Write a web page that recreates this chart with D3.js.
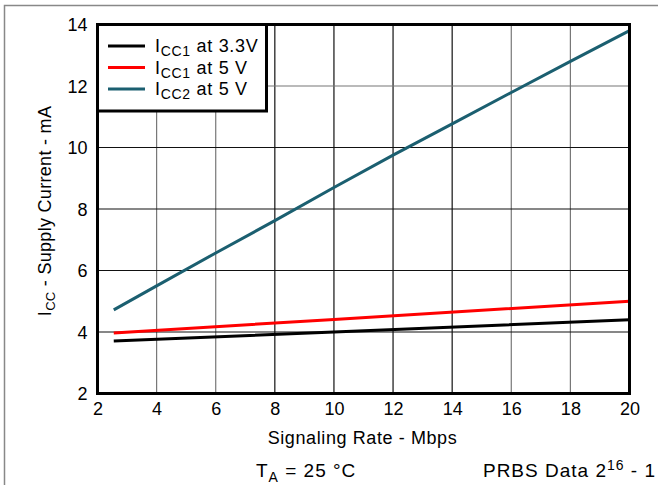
<!DOCTYPE html>
<html>
<head>
<meta charset="utf-8">
<script src="https://cdn.jsdelivr.net/npm/d3@7"></script>
<style>
  body { margin: 0; background: #fff; }
  text { font-family: "Liberation Sans", Arial, sans-serif; fill: #000; }
</style>
</head>
<body>
<div id="chart"></div>
<script>
// values
const xTicks = [2, 4, 6, 8, 10, 12, 14, 16, 18, 20]
const yTicks = [2, 4, 6, 8, 10, 12, 14]

const rateIcc2 = [2.55, 4, 6, 8, 10, 12, 14, 16, 18, 20]
const icc2At5V = [4.72, 5.5, 6.57, 7.62, 8.7, 9.75, 10.77, 11.79, 12.8, 13.8]

const rateIcc1 = [2.55, 10, 20]
const icc1At33V = [3.71, 4.0, 4.4]
const icc1At5V = [3.97, 4.41, 5.0]

const seriesNames = [
  ['I', 'CC1', ' at 3.3V'],
  ['I', 'CC1', ' at 5 V'],
  ['I', 'CC2', ' at 5 V']
]

function graph(id) {
  const width = 658
  const height = 485
  const m = { left: 97.5, right: 629.5, top: 24.5, bottom: 393.5 }

  const svg = d3.select(id).append('svg')
    .attr('width', width)
    .attr('height', height)

  // outer frame
  svg.append('rect')
    .attr('x', 4.5).attr('y', 5.5)
    .attr('width', 700).attr('height', 600)
    .attr('fill', 'none')
    .attr('stroke', '#888')
    .attr('stroke-width', 1.5)

  const xScale = d3.scaleLinear().domain([2, 20]).range([m.left, m.right])
  const yScale = d3.scaleLinear().domain([2, 14]).range([m.bottom, m.top])

  // grid
  const grid = svg.append('g')
  grid.selectAll('line.vx')
    .data(xTicks.slice(1, -1))
    .enter().append('line')
    .attr('x1', (d) => xScale(d)).attr('x2', (d) => xScale(d))
    .attr('y1', m.top).attr('y2', m.bottom)
    .attr('stroke', (d) => (d <= 6 || d >= 16 ? '#777' : '#111'))
    .attr('stroke-width', 1.2)
  grid.selectAll('line.hy')
    .data(yTicks.slice(1, -1))
    .enter().append('line')
    .attr('y1', (d) => yScale(d)).attr('y2', (d) => yScale(d))
    .attr('x1', m.left).attr('x2', m.right)
    .attr('stroke', (d) => (d === 12 ? '#777' : '#111'))
    .attr('stroke-width', 1.2)

  // axes (labels only)
  const xAxis = svg.append('g')
    .attr('transform', `translate(0, ${m.bottom})`)
    .call(d3.axisBottom(xScale).tickValues(xTicks).tickSize(0).tickPadding(9))
  const yAxis = svg.append('g')
    .attr('transform', `translate(${m.left}, 0)`)
    .call(d3.axisLeft(yScale).tickValues(yTicks).tickSize(0).tickPadding(10))
  ;[xAxis, yAxis].forEach((a) => {
    a.select('.domain').remove()
    a.selectAll('text')
      .style('font-family', '"Liberation Sans", Arial, sans-serif')
      .style('font-size', '18px')
      .attr('fill', '#000')
  })
  yAxis.selectAll('text').attr('dy', '0.36em')

  const makeLine = d3.line()
    .x((d) => xScale(d[0]))
    .y((d) => yScale(d[1]))

  const lines = [
    { pts: d3.zip(rateIcc1, icc1At33V), color: '#000' },
    { pts: d3.zip(rateIcc1, icc1At5V), color: '#ff0000' },
    { pts: d3.zip(rateIcc2, icc2At5V), color: '#1b5f70' }
  ]

  svg.append('g')
    .selectAll('path')
    .data(lines)
    .enter().append('path')
    .attr('fill', 'none')
    .attr('stroke', (d) => d.color)
    .attr('stroke-width', 3)
    .attr('d', (d) => makeLine(d.pts))

  // legend
  const legend = svg.append('g')
  legend.append('rect')
    .attr('x', m.left).attr('y', m.top)
    .attr('width', 169).attr('height', 86.5)
    .attr('fill', '#fff')
    .attr('stroke', '#000')
    .attr('stroke-width', 3)

  seriesNames.forEach((n, i) => {
    const y = 46 + i * 21.5
    legend.append('line')
      .attr('x1', 108).attr('x2', 145)
      .attr('y1', y).attr('y2', y)
      .attr('stroke', lines[i].color)
      .attr('stroke-width', 3)
    const t = legend.append('text')
      .attr('x', 155).attr('y', y + 6)
      .style('font-size', '18px')
      .style('letter-spacing', '0.7px')
    t.append('tspan').text(n[0])
    t.append('tspan').attr('dy', 4).style('font-size', '14px').text(n[1])
    t.append('tspan').attr('dy', -4).text(n[2])
  })

  // plot border
  svg.append('rect')
    .attr('x', m.left).attr('y', m.top)
    .attr('width', m.right - m.left).attr('height', m.bottom - m.top)
    .attr('fill', 'none')
    .attr('stroke', '#000')
    .attr('stroke-width', 3)

  // axis titles
  svg.append('text')
    .attr('x', (m.left + m.right) / 2 - 1).attr('y', 444)
    .attr('text-anchor', 'middle')
    .style('font-size', '18px')
    .style('letter-spacing', '0.6px')
    .text('Signaling Rate - Mbps')

  const yt = svg.append('text')
    .attr('transform', `translate(51, ${(m.top + m.bottom) / 2 + 2}) rotate(-90)`)
    .attr('text-anchor', 'middle')
    .style('font-size', '18px')
    .style('letter-spacing', '0.3px')
  yt.append('tspan').text('I')
  yt.append('tspan').attr('dy', 4).style('font-size', '13px').text('CC')
  yt.append('tspan').attr('dy', -4).text(' - Supply Current - mA')

  // conditions
  const ta = svg.append('text')
    .attr('x', 256).attr('y', 477)
    .style('font-size', '19px')
    .style('letter-spacing', '1px')
  ta.append('tspan').text('T')
  ta.append('tspan').attr('dy', 5).style('font-size', '14px').text('A')
  ta.append('tspan').attr('dy', -5).text(' = 25 °C')

  const prbs = svg.append('text')
    .attr('x', 656).attr('y', 477)
    .attr('text-anchor', 'end')
    .style('font-size', '19px')
    .style('letter-spacing', '1px')
  prbs.append('tspan').text('PRBS Data 2')
  prbs.append('tspan').attr('dy', -7).style('font-size', '14px').text('16')
  prbs.append('tspan').attr('dy', 7).text(' - 1')
}

graph('#chart')
</script>
</body>
</html>
